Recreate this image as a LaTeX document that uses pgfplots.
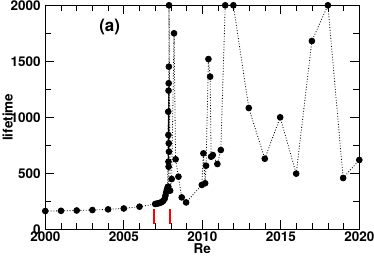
\documentclass[border=0pt]{standalone}
\usepackage{fontspec}
\setmainfont{TeX Gyre Heros}
\usepackage{pgfplots}
\pgfplotsset{compat=1.18}
\begin{document}
\fontsize{13.5pt}{16pt}\selectfont
\begin{tikzpicture}
\begin{axis}[
  scale only axis, width=314pt, height=224pt,
  at={(0,0)}, anchor=south west,
  xmin=2000, xmax=2020, ymin=0, ymax=2000,
  xtick={2000,2005,...,2020}, minor x tick num=4,
  ytick={0,500,...,2000}, minor y tick num=1,
  tick align=inside,
  major tick length=9pt, minor tick length=6pt,
  every tick/.style={black, line width=0.8pt},
  axis line style={line width=1.3pt},
  tick label style={font=\fontsize{13.5pt}{16pt}\selectfont\bfseries},
  xticklabel style={yshift=2.5pt},
  /pgf/number format/assume math mode=true,
  /pgf/number format/1000 sep={},
  xlabel={\bfseries Re}, ylabel={\bfseries lifetime},
  xlabel style={at={(axis description cs:0.5,-0.086)}, anchor=center},
  ylabel style={at={(axis description cs:-0.12,0.5)}, anchor=center},
  clip=false,
]
\addplot[red, line width=2pt, forget plot] coordinates {(2006.95,45) (2006.95,180)};
\addplot[red, line width=2pt, forget plot] coordinates {(2007.95,45) (2007.95,180)};
\addplot[black, line width=0.8pt, dash pattern=on 0.9pt off 1.8pt,
  mark=*, mark size=2.9pt, mark options={solid}] coordinates {
(2000,163) (2001,165) (2002,168) (2003,172) (2004,178) (2005,186) (2006,202)
(2007,226) (2007.1,229) (2007.2,232) (2007.3,236) (2007.4,242) (2007.5,252)
(2007.6,272) (2007.65,300) (2007.7,330) (2007.75,356) (2007.8,378)
(2007.83,1050) (2007.835,380) (2007.84,842) (2007.845,604) (2007.85,1238)
(2007.855,559) (2007.86,1304) (2007.865,768) (2007.87,1452) (2007.875,693)
(2007.88,2000) (2007.95,345) (2008.05,449) (2008.2,1750) (2008.3,625)
(2008.48,470) (2008.69,285) (2008.97,240) (2009.97,396) (2010.07,678)
(2010.18,411) (2010.24,568) (2010.39,1520) (2010.5,1363) (2010.56,648)
(2010.67,663) (2010.96,583) (2011.18,708) (2011.46,2000) (2011.98,2000)
(2012.96,1083) (2013.98,630) (2014.96,1000) (2015.98,497) (2016.98,1681)
(2018,2000) (2018.97,458) (2020,619)
};
\node at (axis cs:2004.1,1806) {\fontsize{17pt}{20pt}\selectfont\bfseries (a)};
\end{axis}
\pgfresetboundingbox
\useasboundingbox (-45.3pt,-26.7pt) rectangle (328.7pt,229.3pt);
\end{tikzpicture}
\end{document}
